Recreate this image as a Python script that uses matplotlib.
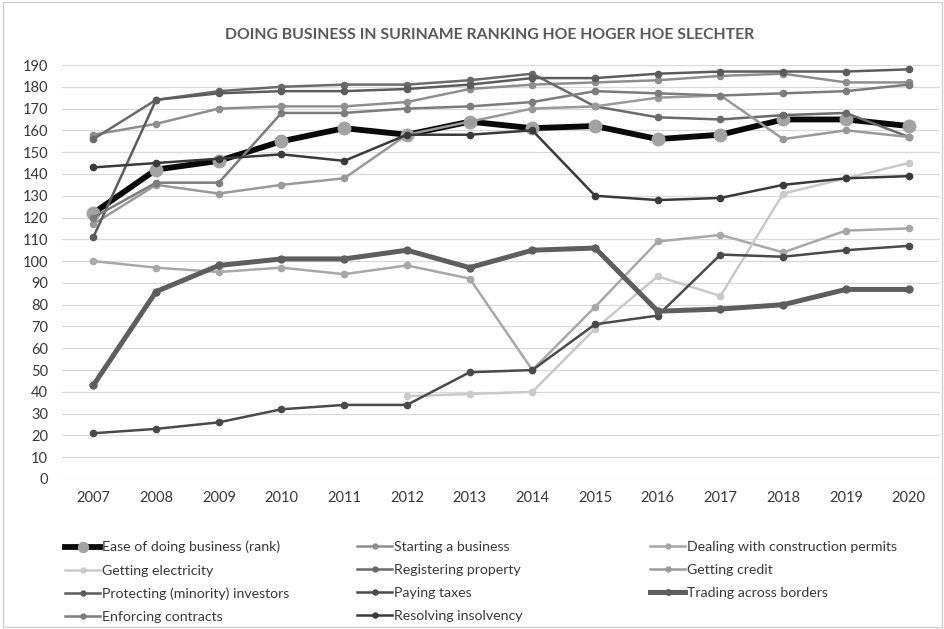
import numpy as np
import matplotlib
matplotlib.use("Agg")
from matplotlib import pyplot as plt
import matplotlib.patches as patches

plt.rcParams['font.family'] = ['Lato', 'DejaVu Sans']

years = [2007, 2008, 2009, 2010, 2011, 2012, 2013, 2014, 2015, 2016, 2017, 2018, 2019, 2020]
nan = np.nan

ease = [122, 142, 146, 155, 161, 158, 164, 161, 162, 156, 158, 165, 165, 162]
starting = [158, 163, 170, 171, 171, 173, 179, 181, 182, 183, 185, 186, 182, 182]
permits = [100, 97, 95, 97, 94, 98, 92, 50, 79, 109, 112, 104, 114, 115]
electricity = [nan, nan, nan, nan, nan, 38, 39, 40, 69, 93, 84, 131, 138, 145]
registering = [156, 174, 178, 180, 181, 181, 183, 186, 171, 166, 165, 167, 168, 157]
credit = [117, 135, 131, 135, 138, 158, 164, 170, 171, 175, 176, 156, 160, 157]
investors = [111, 174, 177, 178, 178, 179, 181, 184, 184, 186, 187, 187, 187, 188]
taxes = [21, 23, 26, 32, 34, 34, 49, 50, 71, 75, 103, 102, 105, 107]
trading = [43, 86, 98, 101, 101, 105, 97, 105, 106, 77, 78, 80, 87, 87]
contracts = [120, 136, 136, 168, 168, 170, 171, 173, 178, 177, 176, 177, 178, 181]
insolvency = [143, 145, 147, 149, 146, 158, 158, 160, 130, 128, 129, 135, 138, 139]

# name, values, colour, line width, marker size
series = [
    ("Ease of doing business (rank)", ease, "#0a0a0a", 4.2, 9),
    ("Starting a business", starting, "#8e8e8e", 1.8, 4.5),
    ("Dealing with construction permits", permits, "#a8a8a8", 1.8, 4.5),
    ("Getting electricity", electricity, "#c9c9c9", 1.8, 4.5),
    ("Registering property", registering, "#6a6a6a", 1.8, 4.5),
    ("Getting credit", credit, "#9a9a9a", 1.8, 4.5),
    ("Protecting (minority) investors", investors, "#5c5c5c", 1.8, 4.5),
    ("Paying taxes", taxes, "#4a4a4a", 1.8, 4.5),
    ("Trading across borders", trading, "#5e5e5e", 3.6, 5),
    ("Enforcing contracts", contracts, "#7c7c7c", 1.8, 4.5),
    ("Resolving insolvency", insolvency, "#3a3a3a", 1.8, 4.5),
]

fig = plt.figure(figsize=(9.45, 6.29), dpi=100)
ax = fig.add_axes([62 / 945, 1 - 479 / 629, (940 - 62) / 945, (479 - 65) / 629])

x = np.arange(len(years))
handles = {}
for name, vals, col, lw, ms in series:
    face = "#a3a3a3" if name.startswith("Ease") else col
    h, = ax.plot(x, vals, color=col, lw=lw, marker="o", ms=ms,
                 markerfacecolor=face, markeredgecolor=face, solid_joinstyle="round")
    handles[name] = h

ax.set_xlim(-0.5, len(years) - 0.5)
ax.set_ylim(0, 190)
ax.set_yticks(range(0, 191, 10))
ax.set_xticks(x)
ax.set_xticklabels([str(y) for y in years])
ax.grid(axis="y", color="#d9d9d9", lw=0.9)
ax.set_axisbelow(True)
for s in ax.spines.values():
    s.set_visible(False)
ax.tick_params(length=0, labelsize=10.5, labelcolor="#383838")
ax.tick_params(axis="y", pad=10)
ax.tick_params(axis="x", pad=9)

fig.text(490 / 945, 1 - 35 / 629, "DOING BUSINESS IN SURINAME RANKING HOE HOGER HOE SLECHTER",
         ha="center", va="center", fontsize=11.3, fontweight="bold", color="#595959")

# Excel legend: equal width columns, filled row by row
columns = [
    ["Ease of doing business (rank)", "Getting electricity", "Protecting (minority) investors", "Enforcing contracts"],
    ["Starting a business", "Registering property", "Paying taxes", "Resolving insolvency"],
    ["Dealing with construction permits", "Getting credit", "Trading across borders"],
]
col_left = [55, 347, 640]
for names, xl in zip(columns, col_left):
    leg = fig.legend([handles[n] for n in names], names, loc="upper left",
                     bbox_to_anchor=(xl / 945, 1 - 531 / 629), frameon=False,
                     fontsize=10.2, handlelength=2.5, handletextpad=0.12,
                     labelspacing=0.78, markerscale=0.8, borderpad=0.2)
    for t in leg.get_texts():
        t.set_color("#383838")

fig.patches.append(patches.Rectangle((0.003, 0.003), 0.994, 0.994, transform=fig.transFigure,
                                     fill=False, edgecolor="#d0d0d0", lw=1))

fig.savefig("out.png", dpi=100, facecolor="white")
